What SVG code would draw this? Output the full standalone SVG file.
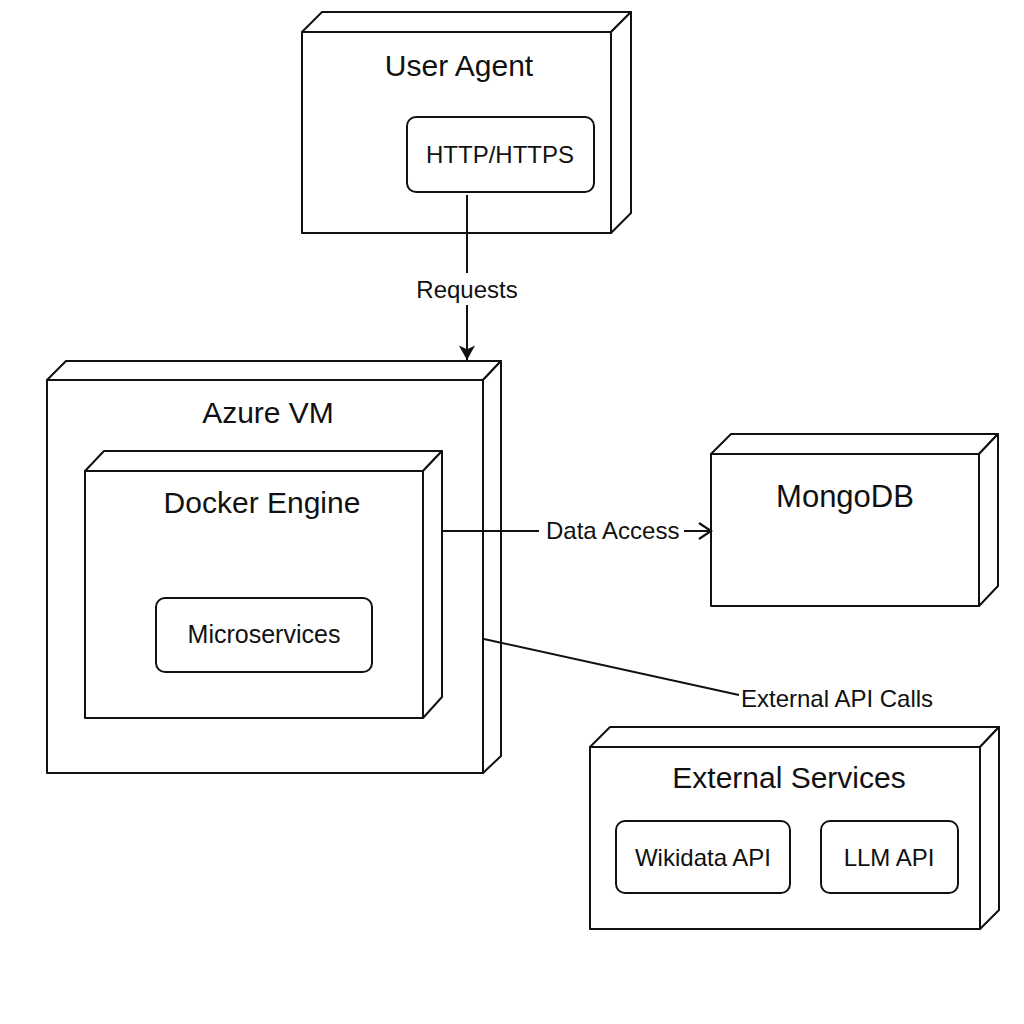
<svg xmlns="http://www.w3.org/2000/svg" width="1024" height="1024" viewBox="0 0 1024 1024">
  <defs>
    <style>
      .box { fill: #fff; stroke: #111; stroke-width: 2; stroke-linejoin: round; }
      .inner { fill: #fff; stroke: #111; stroke-width: 2; }
      .title { font-family: "Liberation Sans", Arial, sans-serif; font-size: 30px; fill: #111; text-anchor: middle; }
      .label { font-family: "Liberation Sans", Arial, sans-serif; font-size: 24px; fill: #111; text-anchor: middle; }
      .conn { fill: none; stroke: #111; stroke-width: 2; }
      .clabel { font-family: "Liberation Sans", Arial, sans-serif; font-size: 24px; fill: #111; }
    </style>
    <marker id="filled" viewBox="0 0 20 20" refX="18" refY="10" markerWidth="18" markerHeight="18" markerUnits="userSpaceOnUse" orient="auto">
      <path d="M2,1 L18,10 L2,19 L6,10 Z" fill="#111"/>
    </marker>
    <marker id="open" viewBox="0 0 20 20" refX="18" refY="10" markerWidth="20" markerHeight="20" markerUnits="userSpaceOnUse" orient="auto">
      <path d="M6,2 L18,10 L6,18" fill="none" stroke="#111" stroke-width="2.2"/>
    </marker>
  </defs>
  <rect width="1024" height="1024" fill="#fff"/>

  <g id="user-agent">
    <path class="box" d="M302,32 L322,12 L631,12 L611,32 Z"/>
    <path class="box" d="M611,32 L631,12 L631,213 L611,233 Z"/>
    <rect class="box" x="302" y="32" width="309" height="201"/>
    <text class="title" x="459" y="76">User Agent</text>
    <g id="http-https">
      <rect class="inner" x="407" y="117" width="187" height="75" rx="9"/>
      <text class="label" x="500" y="163">HTTP/HTTPS</text>
    </g>
  </g>

  <g id="azure-vm">
    <path class="box" d="M47,380 L66,361 L501,361 L483,380 Z"/>
    <path class="box" d="M483,380 L501,361 L501,756 L483,773 Z"/>
    <rect class="box" x="47" y="380" width="436" height="393"/>
    <text class="title" x="268" y="423">Azure VM</text>
  </g>

  <g id="docker-engine">
    <path class="box" d="M85,471 L104,451 L442,451 L423,471 Z"/>
    <path class="box" d="M423,471 L442,451 L442,697 L423,718 Z"/>
    <rect class="box" x="85" y="471" width="338" height="247"/>
    <text class="title" x="262" y="513">Docker Engine</text>
    <g id="microservices">
      <rect class="inner" x="156" y="598" width="216" height="74" rx="9"/>
      <text class="label" x="264" y="643" style="font-size:25px">Microservices</text>
    </g>
  </g>

  <g id="mongodb">
    <path class="box" d="M711,454 L731,434 L998,434 L979,454 Z"/>
    <path class="box" d="M979,454 L998,434 L998,586 L979,606 Z"/>
    <rect class="box" x="711" y="454" width="268" height="152"/>
    <text class="title" x="845" y="507" style="font-size:31px">MongoDB</text>
  </g>

  <g id="external-services">
    <path class="box" d="M590,747 L610,727 L999,727 L980,747 Z"/>
    <path class="box" d="M980,747 L999,727 L999,910 L980,929 Z"/>
    <rect class="box" x="590" y="747" width="390" height="182"/>
    <text class="title" x="789" y="788">External Services</text>
    <g id="wikidata-api">
      <rect class="inner" x="616" y="821" width="174" height="72" rx="9"/>
      <text class="label" x="703" y="866">Wikidata API</text>
    </g>
    <g id="llm-api">
      <rect class="inner" x="821" y="821" width="137" height="72" rx="9"/>
      <text class="label" x="889" y="866">LLM API</text>
    </g>
  </g>

  <g id="connectors">
    <path class="conn" d="M467,195 L467,273 M467,305 L467,360" marker-end="url(#filled)"/>
    <text class="clabel" x="467" y="298" text-anchor="middle">Requests</text>
    <path class="conn" d="M442,531 L539,531 M684,531 L711,531" marker-end="url(#open)"/>
    <text class="clabel" x="546" y="539">Data Access</text>
    <path class="conn" d="M484,639 L739,695"/>
    <text class="clabel" x="741" y="707">External API Calls</text>
  </g>
</svg>
